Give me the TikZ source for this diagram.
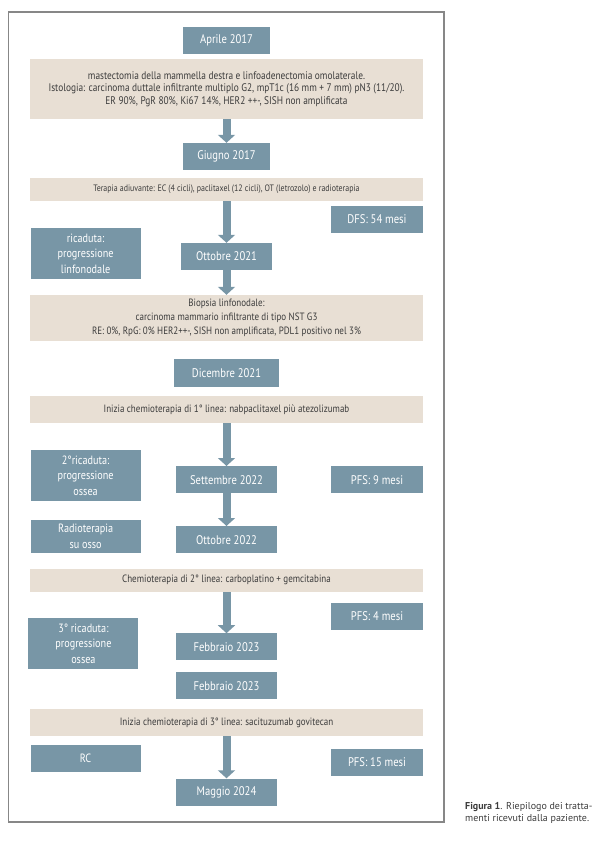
\documentclass[tikz,border=0pt]{standalone}
\usepackage{fontspec}
\setmainfont{PT Sans}[FakeStretch = 0.85]
\newfontfamily\captionfont{PT Sans}
\usepackage{tikz}
\usetikzlibrary{arrows.meta}
\definecolor{boxblue}{RGB}{120,150,166}
\definecolor{boxbeige}{RGB}{232,223,212}
\definecolor{textgrey}{RGB}{60,60,60}
\definecolor{framegrey}{RGB}{135,135,135}

\begin{document}
\begin{tikzpicture}[x = 1pt, y = -1pt,
    datebox/.style = {fill = boxblue, text = white, inner sep = 0pt, minimum height = 27pt, font = \fontsize{12.5}{14}\selectfont},
    sidebox/.style = {fill = boxblue, text = white, inner sep = 0pt, align = center, minimum width = 110pt, font = \fontsize{12}{15.5}\selectfont},
    infobox/.style = {fill = boxbeige, text = textgrey, inner sep = 0pt, align = center, minimum width = 393pt, font = \fontsize{10.6}{14}\selectfont},
    flowarrow/.style = {boxblue, line width = 8pt, -{Triangle[length = 8pt, width = 17pt]}}]
    \useasboundingbox (0,0) rectangle (608,841);
    \draw [framegrey, line width = 1.2pt] (8.5,12) rectangle (444,822);

    \node [datebox, minimum width = 87pt] (aprile) at (226.5,40.5) {Aprile 2017};
    \node [infobox, minimum height = 60pt, font = \fontsize{11}{12.5}\selectfont] (chirurgia) at (226.5,89)
    {mastectomia della mammella destra e linfoadenectomia omolaterale.\\
    Istologia: carcinoma duttale infiltrante multiplo G2, mpT1c (16 mm + 7 mm) pN3 (11/20).\\
    ER 90\%, PgR 80\%, Ki67 14\%, HER2 ++-, SISH non amplificata};
    \node [datebox, minimum width = 87pt] (giugno) at (226.5,156.5) {Giugno 2017};
    \node [infobox, minimum height = 23pt, font = \fontsize{9.3}{10}\selectfont] (adiuvante) at (226.5,189.5)
    {Terapia adiuvante: EC (4 cicli), paclitaxel (12 cicli), OT (letrozolo) e radioterapia};
    \node [datebox, minimum width = 92pt] (dfs) at (377,219.5) {DFS: 54 mesi};
    \node [sidebox, minimum height = 51pt] (ricaduta) at (85.6,253.5) {ricaduta:\\progressione\\linfonodale};
    \node [datebox, minimum width = 91.5pt] (ottobreA) at (226.5,256.5) {Ottobre 2021};
    \node [infobox, minimum height = 46pt] (biopsia) at (226.5,318)
    {Biopsia linfonodale:\\
    carcinoma mammario infiltrante di tipo NST G3\\
    RE: 0\%, RpG: 0\% HER2++-, SISH non amplificata, PDL1 positivo nel 3\%};
    \node [datebox, minimum width = 105.5pt, minimum height = 28pt] (dicembre) at (226.5,373) {Dicembre 2021};
    \node [infobox, minimum height = 27pt] (lineaA) at (226.5,409.5)
    {Inizia chemioterapia di 1° linea: nabpaclitaxel più atezolizumab};
    \node [sidebox, minimum height = 51pt] (ricadutaB) at (85.6,475.3) {2°ricaduta:\\progressione\\ossea};
    \node [datebox, minimum width = 101pt] (settembre) at (226.5,479.7) {Settembre 2022};
    \node [datebox, minimum width = 92pt] (pfsA) at (377,479.7) {PFS: 9 mesi};
    \node [sidebox, minimum height = 33pt] (radio) at (85.6,536.3) {Radioterapia\\su osso};
    \node [datebox, minimum width = 101pt] (ottobreB) at (226.5,539.7) {Ottobre 2022};
    \node [infobox, minimum height = 23pt] (lineaB) at (226.5,580.3)
    {Chemioterapia di 2° linea: carboplatino + gemcitabina};
    \node [datebox, minimum width = 92pt] (pfsB) at (377,616) {PFS: 4 mesi};
    \node [sidebox, minimum height = 51.6pt] (ricadutaC) at (83.4,643.5) {3° ricaduta:\\progressione\\ossea};
    \node [datebox, minimum width = 101pt] (febbraioA) at (226.5,646.9) {Febbraio 2023};
    \node [datebox, minimum width = 101pt] (febbraioB) at (226.5,685.7) {Febbraio 2023};
    \node [infobox, minimum height = 27pt] (lineaC) at (226.5,722.5)
    {Inizia chemioterapia di 3° linea: sacituzumab govitecan};
    \node [sidebox, minimum height = 27pt] (rc) at (85.6,758.7) {RC};
    \node [datebox, minimum width = 92pt] (pfsC) at (377,762) {PFS: 15 mesi};
    \node [datebox, minimum width = 101pt] (maggio) at (226.5,792) {Maggio 2024};

    \draw [flowarrow] (chirurgia.south) -- (giugno.north);
    \draw [flowarrow] (adiuvante.south) -- (ottobreA.north);
    \draw [flowarrow] (ottobreA.south) -- (biopsia.north);
    \draw [flowarrow] (lineaA.south) -- (settembre.north);
    \draw [flowarrow] (settembre.south) -- (ottobreB.north);
    \draw [flowarrow] (lineaB.south) -- (febbraioA.north);
    \draw [flowarrow] (lineaC.south) -- (maggio.north);

    \node [anchor = north west, align = left, inner sep = 0pt, text = textgrey, font = \captionfont\fontsize{10}{12}\selectfont] (didascalia) at (465,802)
    {\textbf{Figura 1}. Riepilogo dei tratta-\\menti ricevuti dalla paziente.};
\end{tikzpicture}
\end{document}
